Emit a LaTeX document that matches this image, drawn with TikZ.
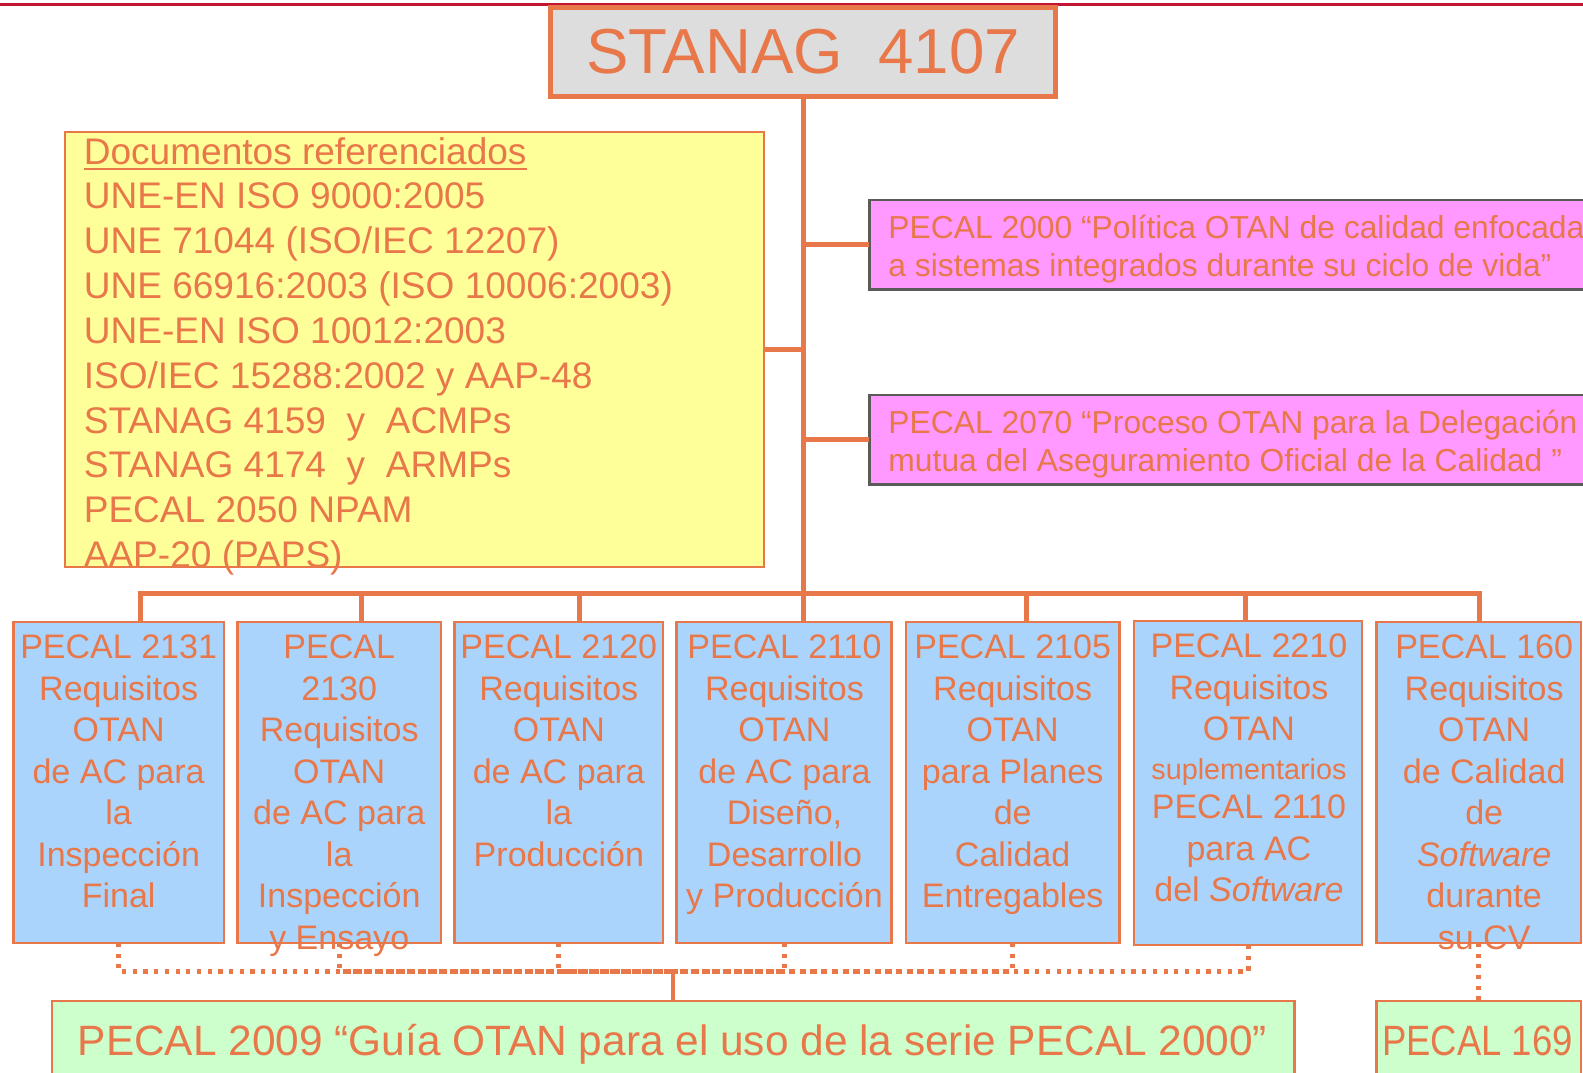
\documentclass[tikz,border=0pt]{standalone}
\usepackage{fontspec}
\setmainfont{Liberation Sans}
\newfontfamily\narrowfont[FakeStretch=0.86]{Liberation Sans}
\newcommand\docul[1]{\leavevmode\vtop{\hbox{#1}\kern3pt\hrule height 2.4pt}}
\definecolor{ocol}{RGB}{232,119,74}
\definecolor{redline}{RGB}{196,20,52}
\definecolor{gfill}{RGB}{221,221,221}
\definecolor{yfill}{RGB}{255,255,153}
\definecolor{bfill}{RGB}{170,212,251}
\definecolor{pfill}{RGB}{255,153,255}
\definecolor{pborder}{RGB}{90,90,90}
\definecolor{grfill}{RGB}{204,255,204}
\begin{document}
\begin{tikzpicture}[x=1pt,y=-1pt,scale=1.0096,transform shape,
  conn/.style={draw=ocol, line width=5pt},
  dotconn/.style={draw=ocol, line width=5pt, dash pattern=on 4.2pt off 6.5pt},
  box/.style={draw=ocol, inner sep=0pt, outer sep=0pt},
  titlebox/.style={box, fill=gfill, line width=5pt, text=ocol, font=\fontsize{63}{75}\selectfont},
  ybox/.style={box, fill=yfill, line width=2pt},
  bluebox/.style={box, fill=bfill, line width=2.5pt},
  pinkbox/.style={fill=pfill, inner sep=0pt, outer sep=0pt},
  pinkline/.style={draw=pborder, line width=2.5pt},
  greenbox/.style={fill=grfill, inner sep=0pt, outer sep=0pt},
  greenline/.style={draw=ocol, line width=2.5pt},
  txt/.style={text=ocol, inner sep=0pt, outer sep=0pt},
  ytxt/.style={txt, align=left, anchor=north west, font=\fontsize{36.7}{44.4}\selectfont},
  bluetxt/.style={txt, align=center, anchor=north, font=\fontsize{33.7}{41.1}\selectfont},
  pinktxt/.style={txt, align=left, anchor=north west, font=\fontsize{31.5}{38}\selectfont},
  greentxt/.style={txt, anchor=base west, font=\fontsize{42}{50}\selectfont}
]
\useasboundingbox (0,0) rectangle (1567.9,1061.8);
\clip (0,0) rectangle (1567.9,1061.8);

% top red rule
\coordinate (rl) at (0,4);
\coordinate (rr) at (1567.9,4);
\draw[redline, line width=3pt] (rl) -- (rr);

% title
\node[titlebox, minimum width=500, minimum height=88] (title) at (795.5,51.5) {STANAG~~4107};

% referenced documents
\node[ybox, minimum width=693, minimum height=431] (yb) at (410.5,346.5) {};

% pink boxes (run off the right edge)
\node[pinkbox, minimum width=707, minimum height=88.5] (pA) at (1214.5,242.5) {};
\draw[pinkline] (pA.north east) -- (pA.north west) -- (pA.south west) -- (pA.south east);
\node[pinkbox, minimum width=707, minimum height=88.5] (pB) at (1214.5,435.5) {};
\draw[pinkline] (pB.north east) -- (pB.north west) -- (pB.south west) -- (pB.south east);

% blue boxes
\node[bluebox, minimum width=208.5, minimum height=317.5] (b1) at (117.5,775) {};
\node[bluebox, minimum width=201.5, minimum height=317.5] (b2) at (336,775) {};
\node[bluebox, minimum width=206.5, minimum height=317.5] (b3) at (553.5,775) {};
\node[bluebox, minimum width=212.5, minimum height=317.5] (b4) at (776.5,775) {};
\node[bluebox, minimum width=211.5, minimum height=317.5] (b5) at (1003,775) {};
\node[bluebox, minimum width=225.5, minimum height=320.5] (b6) at (1236,775.5) {};
\node[bluebox, minimum width=202.5, minimum height=317.5] (b7) at (1464.5,775) {};

% green boxes (run off the bottom edge)
\node[greenbox, minimum width=1230.5, minimum height=72] (g1) at (666.5,1027.25) {};
\draw[greenline] (g1.south west) -- (g1.north west) -- (g1.north east) -- (g1.south east);
\node[greenbox, minimum width=202.5, minimum height=72] (g2) at (1464.5,1027.25) {};
\draw[greenline] (g2.south west) -- (g2.north west) -- (g2.north east) -- (g2.south east);

% solid connectors
\coordinate (busL) at (139,588);
\coordinate (busR) at (1465,588);
\coordinate (d2) at (358,588);
\coordinate (d3) at (574,588);
\coordinate (d5) at (1017,588);
\coordinate (d6) at (1233,588);
\draw[conn] (title.south) -- (title.south |- b4.north);
\draw[conn] (busL |- b1.north) -- (busL) -- (busR) -- (busR |- b7.north);
\draw[conn] (d2) -- (d2 |- b2.north);
\draw[conn] (d3) -- (d3 |- b3.north);
\draw[conn] (d5) -- (d5 |- b5.north);
\draw[conn] (d6) -- (d6 |- b6.north);
\draw[conn] (pA.west) -- (pA.west -| title.south);
\draw[conn] (pB.west) -- (pB.west -| title.south);
\draw[conn] (yb.east) -- (yb.east -| title.south);

% dotted connectors
\coordinate (jy) at (0,962);
\coordinate (j) at (g1.north |- jy);
\draw[dotconn] (b1.south) |- (j);
\draw[dotconn] (b2.south) |- (j);
\draw[dotconn] (b3.south) |- (j);
\draw[dotconn] (b4.south) |- (j);
\draw[dotconn] (b5.south) |- (j);
\draw[dotconn] (b6.south) |- (j);
\draw[conn, line width=4pt] (j) -- (j |- g1.north);
\draw[dotconn] (b7.south) -- (b7.south |- g2.north);

% texts
\node[ytxt] (yt) at (83,136) {\docul{Documentos referenciados}\\
UNE-EN ISO 9000:2005\\
UNE 71044 (ISO/IEC 12207)\\
UNE 66916:2003 (ISO 10006:2003)\\
UNE-EN ISO 10012:2003\\
ISO/IEC 15288:2002 y AAP-48\\
STANAG 4159~ y~ ACMPs\\
STANAG 4174~ y~ ARMPs\\
PECAL 2050 NPAM\\
AAP-20 (PAPS)};

\node[pinktxt] (pAt) at (880,213) {PECAL 2000 “Política OTAN de calidad enfocada\\a sistemas integrados durante su ciclo de vida”};
\node[pinktxt] (pBt) at (880,406) {PECAL 2070 “Proceso OTAN para la Delegación\\mutua del Aseguramiento Oficial de la Calidad ”};

\node[bluetxt] (t1) at (117.5,629) {PECAL 2131\\Requisitos\\OTAN\\de AC para\\la\\Inspección\\Final};
\node[bluetxt] (t2) at (336,629) {PECAL\\2130\\Requisitos\\OTAN\\de AC para\\la\\Inspección\\y Ensayo};
\node[bluetxt] (t3) at (553.5,629) {PECAL 2120\\Requisitos\\OTAN\\de AC para\\la\\Producción};
\node[bluetxt] (t4) at (777,629) {PECAL 2110\\Requisitos\\OTAN\\de AC para\\Diseño,\\Desarrollo\\y Producción};
\node[bluetxt] (t5) at (1003,629) {PECAL 2105\\Requisitos\\OTAN\\para Planes\\de\\Calidad\\Entregables};
\node[bluetxt] (t6) at (1237,628) {PECAL 2210\\Requisitos\\OTAN\\[-2.5pt]{\fontsize{28.5}{34}\selectfont suplementarios}\\[-2.5pt]PECAL 2110\\para AC\\del \textit{Software}};
\node[bluetxt] (t7) at (1470,629) {PECAL 160\\Requisitos\\OTAN\\de Calidad\\de\\\textit{Software}\\durante\\su CV};

\node[greentxt] (g1t) at (77,1045) {PECAL 2009 “Guía OTAN para el uso de la serie PECAL 2000”};
\node[greentxt] (g2t) at (1369,1045) {\narrowfont PECAL 169};
\end{tikzpicture}
\end{document}
